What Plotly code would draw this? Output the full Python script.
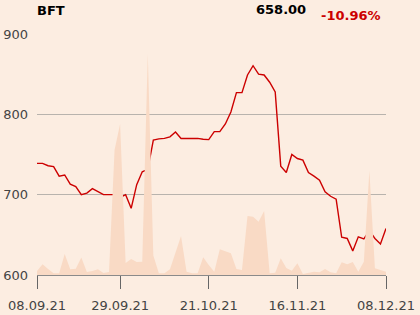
import plotly.graph_objects as go

dates = [
    "2021-09-08", "2021-09-09", "2021-09-10", "2021-09-13", "2021-09-14", "2021-09-15",
    "2021-09-16", "2021-09-17", "2021-09-20", "2021-09-21", "2021-09-22", "2021-09-23",
    "2021-09-24", "2021-09-27", "2021-09-28", "2021-09-29", "2021-09-30",
    "2021-10-01", "2021-10-04", "2021-10-05", "2021-10-06", "2021-10-07", "2021-10-08",
    "2021-10-11", "2021-10-12", "2021-10-13", "2021-10-14", "2021-10-15", "2021-10-18",
    "2021-10-19", "2021-10-20", "2021-10-21", "2021-10-22", "2021-10-25", "2021-10-27",
    "2021-10-28", "2021-10-29",
    "2021-11-02", "2021-11-03", "2021-11-04", "2021-11-05", "2021-11-08", "2021-11-09",
    "2021-11-10", "2021-11-11", "2021-11-12", "2021-11-15", "2021-11-16", "2021-11-17",
    "2021-11-18", "2021-11-19", "2021-11-22", "2021-11-23", "2021-11-24", "2021-11-25",
    "2021-11-26", "2021-11-29", "2021-11-30",
    "2021-12-01", "2021-12-02", "2021-12-03", "2021-12-06", "2021-12-07", "2021-12-08",
]

price = [
    739, 739, 736, 735, 723, 724.5, 713, 710, 700, 702, 707.5, 704, 700, 700, 700, 696.5,
    700, 683, 712.5, 728.5, 731.5, 768, 769.5, 770, 772, 778, 770, 770, 770, 770, 769, 768.5,
    778.5, 778.5, 788, 803, 827, 827, 849, 860.5, 850, 849, 840, 828, 735.5, 727.5, 750, 745,
    743, 727.5, 723, 718, 703.5, 698, 694.5, 647, 645.5, 630, 647.5, 645, 655, 645.5, 638.5, 658,
]

volume = [
    4000, 10700, 6000, 1700, 1700, 21000, 5700, 6300, 17500, 3000, 4000, 5700, 2000, 3000,
    125000, 151000, 12000, 16000, 13000, 13300, 221000, 19500, 1700, 1700, 5700, 23000,
    39000, 3300, 1700, 1700, 17700, 10000, 3300, 25700, 24000, 21700, 6000, 5000, 59000,
    58300, 53300, 64000, 1700, 2300, 16700, 7000, 4300, 11700, 1000, 2300, 3300, 2700,
    6000, 2700, 1700, 12700, 10700, 13000, 3300, 13300, 104300, 6700, 5000, 3300,
]

tick_dates = ["2021-09-08", "2021-09-29", "2021-10-21", "2021-11-16", "2021-12-08"]
tick_labels = ["08.09.21", "29.09.21", "21.10.21", "16.11.21", "08.12.21"]
y_ticks = [600, 700, 800, 900]

ticker = "BFT"
last_price = "658.00"
change = "-10.96%"

bg = "#fcede1"
font = "DejaVu Sans"

fig = go.Figure()
fig.add_trace(go.Scatter(
    x=dates, y=volume, yaxis="y2", mode="lines", fill="tozeroy",
    line=dict(width=0, color="#f9dac5"), fillcolor="#f9dac5", hoverinfo="skip",
))
fig.add_trace(go.Scatter(
    x=dates, y=price, mode="lines", line=dict(color="#cc0000", width=1.4),
))

fig.update_layout(
    width=420, height=315,
    margin=dict(l=37, r=34, t=34, b=40),
    paper_bgcolor=bg, plot_bgcolor=bg,
    showlegend=False,
    font=dict(family=font, size=13, color="#444444"),
    xaxis=dict(
        type="category", range=[0, len(dates) - 1], automargin=False,
        tickmode="array", tickvals=tick_dates, ticktext=tick_labels,
        showgrid=False, showline=True, linecolor="#8a8a8a", linewidth=1,
        ticks="outside", ticklen=13, tickcolor="#666666", tickwidth=1,
        ticklabelstandoff=5,
        tickfont=dict(size=13, color="#444444"),
    ),
    yaxis=dict(
        range=[600, 900], tickvals=y_ticks, showgrid=True, gridcolor="#b8b3ad",
        gridwidth=1, zeroline=False, ticks="", ticklabelstandoff=8, automargin=False,
        tickfont=dict(size=13, color="#444444"),
    ),
    yaxis2=dict(
        range=[0, 241000], overlaying="y", visible=False,
    ),
    annotations=[
        dict(text="<b>" + ticker + "</b>", xref="paper", yref="paper", x=-0.006, y=1.097,
             xanchor="left", yanchor="middle", showarrow=False,
             font=dict(size=13, color="#000000")),
        dict(text="<b>" + last_price + "</b>", xref="paper", yref="paper", x=0.776, y=1.103,
             xanchor="right", yanchor="middle", showarrow=False,
             font=dict(size=13, color="#000000")),
        dict(text="<b>" + change + "</b>", xref="paper", yref="paper", x=0.808, y=1.075,
             xanchor="left", yanchor="middle", showarrow=False,
             font=dict(size=13, color="#cc0000")),
    ],
)

fig.write_html("out.html")
